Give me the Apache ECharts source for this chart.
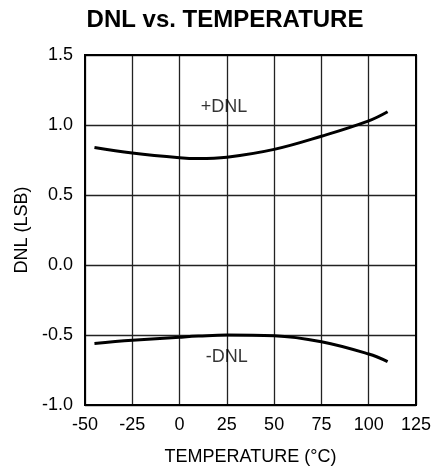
<!DOCTYPE html>
<html>
<head>
<meta charset="utf-8">
<script src="https://cdn.jsdelivr.net/npm/echarts@6/dist/echarts.min.js"></script>
<style>
  html, body { margin: 0; padding: 0; background: #fff; }
  #chart { width: 434px; height: 475px; }
</style>
</head>
<body>
<div id="chart"></div>
<script>
// temperature (°C) vs DNL (LSB)
const temps = [-45, -25, 0, 10, 25, 50, 75, 100, 110]
const dnlPos = [0.84, 0.80, 0.766, 0.76, 0.77, 0.826, 0.92, 1.03, 1.095]
const dnlNeg = [-0.56, -0.538, -0.516, -0.508, -0.50, -0.505, -0.548, -0.636, -0.69]

const curveLabels = [
    {name: "+DNL", at: [23.5, 1.125]},
    {name: "-DNL", at: [25, -0.657]}
]

const font = "'Liberation Sans', Arial, sans-serif"

const chart = echarts.init(document.getElementById("chart"))

const curve = (values) => ({
    type: "line",
    data: temps.map((t, i) => [t, values[i]]),
    smooth: 0.4,
    showSymbol: false,
    lineStyle: {color: "#000", width: 3},
    z: 5
})

chart.setOption({
    animation: false,
    title: {
        text: "DNL vs. TEMPERATURE",
        left: 220, top: 3, textAlign: "center",
        textStyle: {fontFamily: font, fontWeight: "bold", fontSize: 24, color: "#000"}
    },
    grid: {left: 85, right: 18, top: 55, bottom: 70},
    xAxis: {
        type: "value", min: -50, max: 125, interval: 25,
        name: "TEMPERATURE (°C)", nameLocation: "middle", nameGap: 43,
        nameTextStyle: {fontFamily: font, fontSize: 18, color: "#000"},
        axisLine: {show: false},
        axisTick: {show: false},
        axisLabel: {fontFamily: font, fontSize: 18, color: "#000", margin: 11},
        splitLine: {show: true, lineStyle: {color: "#222", width: 1.3}}
    },
    yAxis: {
        type: "value", min: -1, max: 1.5, interval: 0.5,
        name: "DNL (LSB)", nameLocation: "middle", nameGap: 54,
        nameTextStyle: {fontFamily: font, fontSize: 18, color: "#000"},
        axisLine: {show: false},
        axisTick: {show: false},
        axisLabel: {fontFamily: font, fontSize: 18, color: "#000", margin: 12,
            formatter: v => v.toFixed(1)},
        splitLine: {show: true, lineStyle: {color: "#222", width: 1.3}}
    },
    series: [
        curve(dnlPos),
        curve(dnlNeg),
        {
            type: "scatter",
            symbolSize: 0,
            data: curveLabels.map(l => ({name: l.name, value: l.at})),
            label: {show: true, position: "inside", formatter: "{b}",
                fontFamily: font, fontSize: 18, color: "#000"},
            silent: true
        }
    ],
    graphic: [{
        type: "rect",
        shape: {x: 85, y: 55, width: 331, height: 350},
        style: {fill: "none", stroke: "#000", lineWidth: 2},
        z: 10
    }]
})
</script>
</body>
</html>
